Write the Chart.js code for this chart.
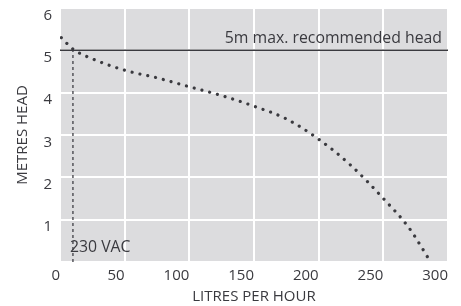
<!DOCTYPE html>
<html>
<head>
<meta charset="utf-8">
<script src="https://cdn.jsdelivr.net/npm/chart.js@4/dist/chart.umd.min.js"></script>
<style>
  html, body { margin: 0; padding: 0; background: #fff; }
  canvas { display: block; }
</style>
</head>
<body>
<canvas id="pumpChart" width="461" height="306"></canvas>
<script>
// pump curve
const flowLph = [1, 10, 25, 50, 75, 100, 125, 150, 175, 200, 225, 250, 270, 286];
const headM = [5.3, 5.03, 4.8, 4.53, 4.35, 4.14, 3.93, 3.68, 3.38, 2.9, 2.28, 1.5, 0.8, 0.03];
const maxHeadM = 5;
const supplyFlow = 10;
const supplyHead = 5.03;
const xTicks = [0, 50, 100, 150, 200, 250, 300];
const yTicks = [0, 1, 2, 3, 4, 5, 6];

const ink = '#3a3a3f';
const font = 'Open Sans';

const plotBg = {
  id: 'plotBg',
  beforeDraw(chart) {
    const { ctx, chartArea: a } = chart;
    ctx.save();
    ctx.fillStyle = '#dcdcde';
    ctx.fillRect(a.left, a.top, a.right - a.left, a.bottom - a.top);
    ctx.restore();
  }
};

const notes = {
  id: 'notes',
  afterDatasetsDraw(chart) {
    const { ctx, chartArea: a, scales: { x, y } } = chart;
    ctx.save();
    ctx.fillStyle = ink;
    ctx.font = '15.8px "' + font + '"';
    ctx.textBaseline = 'alphabetic';
    ctx.textAlign = 'right';
    ctx.fillText('5m max. recommended head', a.right - 6, y.getPixelForValue(maxHeadM) - 7);
    ctx.textAlign = 'left';
    ctx.fillText('230 VAC', x.getPixelForValue(supplyFlow) - 3, y.getPixelForValue(0) - 10);
    ctx.restore();
  }
};

new Chart(document.getElementById('pumpChart'), {
  type: 'line',
  data: {
    datasets: [
      {
        data: flowLph.map((f, i) => ({ x: f, y: headM[i] })),
        borderColor: ink,
        borderWidth: 3.2,
        borderDash: [0.01, 8],
        borderCapStyle: 'round',
        cubicInterpolationMode: 'monotone',
        pointRadius: 0,
        fill: false
      },
      {
        data: [{ x: xTicks[0], y: maxHeadM }, { x: xTicks[xTicks.length - 1], y: maxHeadM }],
        borderColor: ink,
        borderWidth: 1.5,
        pointRadius: 0,
        fill: false
      },
      {
        data: [{ x: supplyFlow, y: 0 }, { x: supplyFlow, y: supplyHead }],
        borderColor: '#4a4a50',
        borderWidth: 1.4,
        borderDash: [3, 3],
        pointRadius: 0,
        fill: false
      }
    ]
  },
  options: {
    responsive: false,
    animation: false,
    layout: { padding: { left: 0, right: 13, top: 7, bottom: 0 } },
    plugins: { legend: { display: false }, tooltip: { enabled: false } },
    scales: {
      x: {
        type: 'linear',
        min: xTicks[0],
        max: xTicks[xTicks.length - 1],
        afterBuildTicks: s => { s.ticks = xTicks.map(v => ({ value: v })); },
        afterFit: s => { s.height = 44; },
        border: { display: false },
        grid: { color: '#ffffff', lineWidth: 2, drawTicks: false },
        ticks: { align: 'end', padding: 5, color: ink, font: { family: font, size: 15 } },
        title: {
          display: true,
          text: 'LITRES PER HOUR',
          color: ink,
          font: { family: font, size: 15 },
          padding: { top: 0, bottom: 0 }
        }
      },
      y: {
        min: yTicks[0],
        max: yTicks[yTicks.length - 1],
        afterBuildTicks: s => { s.ticks = yTicks.map(v => ({ value: v })); },
        afterFit: s => { s.width = 60; },
        border: { display: false },
        grid: { color: '#ffffff', lineWidth: 2, drawTicks: false },
        ticks: {
          align: 'start',
          padding: 8,
          color: ink,
          font: { family: font, size: 15 },
          callback: v => (v === 0 ? '' : v)
        },
        title: {
          display: true,
          text: 'METRES HEAD',
          color: ink,
          font: { family: font, size: 15 },
          padding: { top: 14, bottom: 0 }
        }
      }
    }
  },
  plugins: [plotBg, notes]
});
</script>
</body>
</html>
